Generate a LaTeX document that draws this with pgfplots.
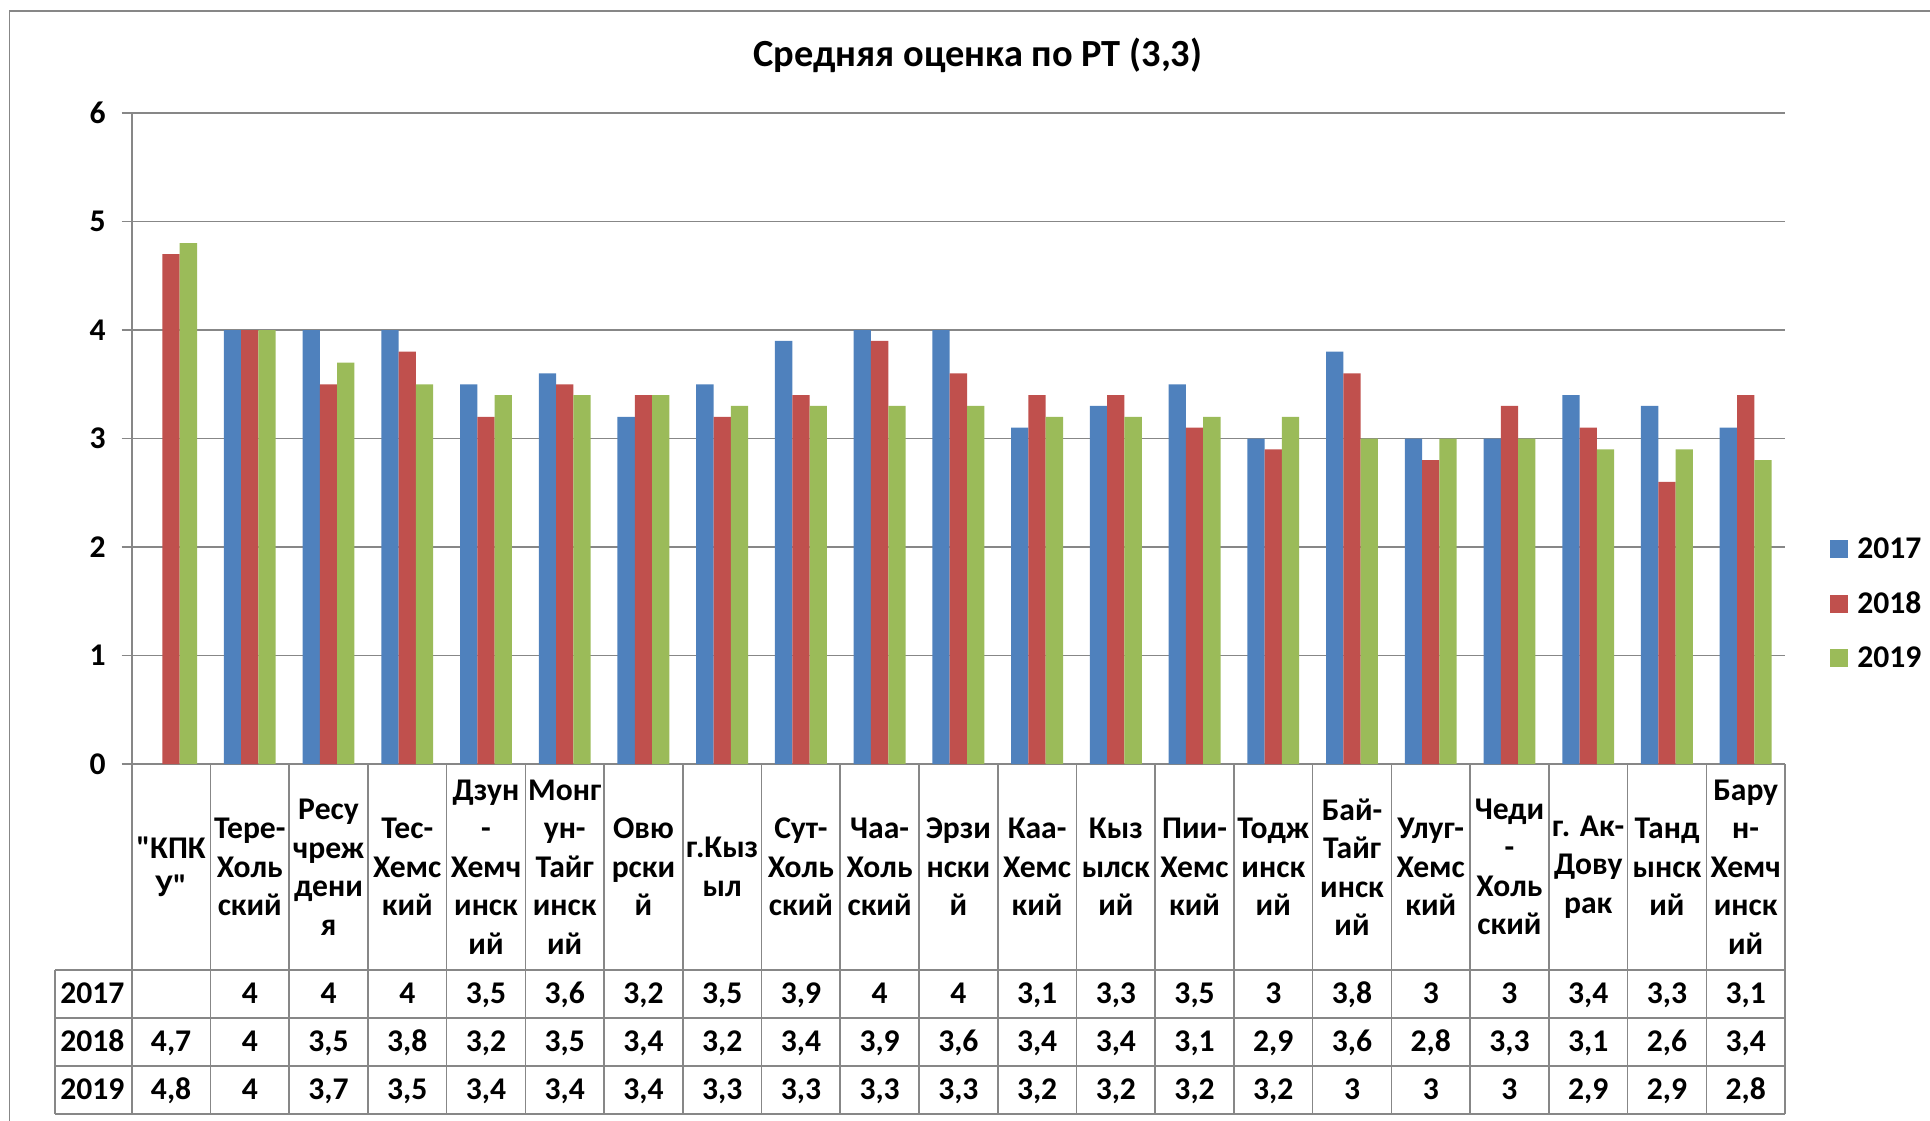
\documentclass[border=0pt]{standalone}
\usepackage{fontspec}
\setmainfont{Carlito}
\usepackage{pgfplots}
\pgfplotsset{compat=1.18}
\usepackage{pgfplotstable}
\definecolor{c17}{HTML}{4F81BD}
\definecolor{c18}{HTML}{C0504D}
\definecolor{c19}{HTML}{9BBB59}
\definecolor{gl}{HTML}{878787}
\newcommand\tf{\bfseries\fontsize{15.8}{19.25}\selectfont}

\pgfplotstableread{
x y17 y18 y19
0 nan 4.7 4.8
1 4 4 4
2 4 3.5 3.7
3 4 3.8 3.5
4 3.5 3.2 3.4
5 3.6 3.5 3.4
6 3.2 3.4 3.4
7 3.5 3.2 3.3
8 3.9 3.4 3.3
9 4 3.9 3.3
10 4 3.6 3.3
11 3.1 3.4 3.2
12 3.3 3.4 3.2
13 3.5 3.1 3.2
14 3 2.9 3.2
15 3.8 3.6 3
16 3 2.8 3
17 3 3.3 3
18 3.4 3.1 2.9
19 3.3 2.6 2.9
20 3.1 3.4 2.8
}\data

\begin{document}
\begin{tikzpicture}
\begin{scope}[x=0.5pt,y=-0.5pt]
\path[use as bounding box] (0,0) rectangle (1930,1120);
\draw[gl, line width=0.8pt] (9.5,1130) -- (9.5,11) -- (1940,11);
\end{scope}
\begin{axis}[
  at={(65.85pt,-382pt)}, anchor=south west,
  scale only axis, width=826.65pt, height=325.5pt,
  xmin=-0.5, xmax=20.5, ymin=0, ymax=6,
  ytick={0,...,6}, xtick=\empty,
  axis x line*=bottom, axis y line*=left,
  axis line style={gl, line width=0.8pt},
  ymajorgrids, grid style={gl, line width=0.8pt},
  major tick length=5pt, tick align=outside,
  tick style={gl, line width=0.8pt},
  yticklabel style={font=\tf, xshift=-4.5pt},
  /pgf/number format/assume math mode=true,
  ybar=0pt, bar width=8.65pt, clip=false,
  legend style={at={(1.0272,0.2477)}, anchor=west, draw=none, fill=none,
    inner sep=0pt, font=\tf, row sep=16.6pt,
    nodes={inner sep=0pt, text depth=0pt},
    /tikz/every odd column/.append style={column sep=4.5pt}},
  legend cell align=left,
  legend image code/.code={\fill[#1] (0pt,-5pt) rectangle (9pt,4pt);},
]
\addplot[fill=c17, draw=none] table[x=x,y=y17]{\data};
\addlegendentry{2017}
\addplot[fill=c18, draw=none] table[x=x,y=y18]{\data};
\addlegendentry{2018}
\addplot[fill=c19, draw=none] table[x=x,y=y19]{\data};
\addlegendentry{2019}
\end{axis}
\begin{scope}[x=0.5pt,y=-0.5pt]
\node[font=\bfseries\fontsize{19.2}{23}\selectfont] at (978,55) {Средняя оценка по РТ (3,3)};
\begin{scope}[gl, line width=0.8pt]
\foreach \i in {0,...,21} \draw (131.7+\i*78.73,764) -- (131.7+\i*78.73,1114);
\draw (55,970) -- (55,1114);
\foreach \yy in {970,1018,1066,1114} \draw (55,\yy) -- (1785,\yy);
\end{scope}
\foreach \lab [count=\i from 0] in {{\textquotedbl КПК\\У\textquotedbl},{Тере-\\Холь\\ский},{Ресу\\чреж\\дени\\я},{Тес-\\Хемс\\кий},{Дзун\\-\\Хемч\\инск\\ий},{Монг\\ун-\\Тайг\\инск\\ий},{Овю\\рски\\й},{г.Кыз\\ыл},{Сут-\\Холь\\ский},{Чаа-\\Холь\\ский},{Эрзи\\нски\\й},{Каа-\\Хемс\\кий},{Кыз\\ылск\\ий},{Пии-\\Хемс\\кий},{Тодж\\инск\\ий},{Бай-\\Тайг\\инск\\ий},{Улуг-\\Хемс\\кий},{Чеди\\-\\Холь\\ский},{г. Ак-\\Дову\\рак},{Танд\\ынск\\ий},{Бару\\н-\\Хемч\\инск\\ий}}
  \node[align=center, font=\tf, inner sep=0pt] at (171.07+\i*78.73,867) {\lab};
\node[font=\tf, anchor=base west, inner sep=0pt] at (60,1003) {2017};
\node[font=\tf, anchor=base west, inner sep=0pt] at (60,1051) {2018};
\node[font=\tf, anchor=base west, inner sep=0pt] at (60,1099) {2019};
\foreach \v [count=\i from 1] in {4,4,4,{3,5},{3,6},{3,2},{3,5},{3,9},4,4,{3,1},{3,3},{3,5},3,{3,8},3,3,{3,4},{3,3},{3,1}}
  \node[font=\tf, anchor=base, inner sep=0pt] at (171.07+\i*78.73,1003) {\v};
\foreach \v [count=\i from 0] in {{4,7},4,{3,5},{3,8},{3,2},{3,5},{3,4},{3,2},{3,4},{3,9},{3,6},{3,4},{3,4},{3,1},{2,9},{3,6},{2,8},{3,3},{3,1},{2,6},{3,4}}
  \node[font=\tf, anchor=base, inner sep=0pt] at (171.07+\i*78.73,1051) {\v};
\foreach \v [count=\i from 0] in {{4,8},4,{3,7},{3,5},{3,4},{3,4},{3,4},{3,3},{3,3},{3,3},{3,3},{3,2},{3,2},{3,2},{3,2},3,3,3,{2,9},{2,9},{2,8}}
  \node[font=\tf, anchor=base, inner sep=0pt] at (171.07+\i*78.73,1099) {\v};
\end{scope}
\end{tikzpicture}
\end{document}
